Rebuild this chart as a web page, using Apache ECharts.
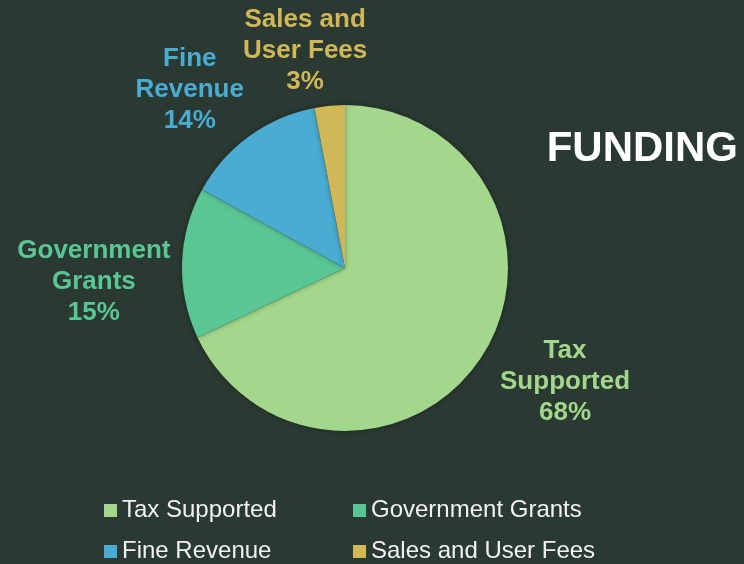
<!DOCTYPE html>
<html>
<head>
<meta charset="utf-8">
<script src="https://cdn.jsdelivr.net/npm/echarts@6/dist/echarts.min.js"></script>
<style>
  html, body { margin: 0; padding: 0; background: #2a3931; }
  #chart { width: 744px; height: 564px; }
</style>
</head>
<body>
<div id="chart"></div>
<script>
// data
var categories = ['Tax Supported', 'Government Grants', 'Fine Revenue', 'Sales and User Fees'];
var values = [68, 15, 14, 3];
var labelNames = ['Tax\nSupported', 'Government\nGrants', 'Fine\nRevenue', 'Sales and\nUser Fees'];
var colors = ['#a3d78b', '#5bc695', '#4aacd1', '#d0b757'];

var cx = 345, cy = 268, radius = 163;
var total = values.reduce(function (a, b) { return a + b; }, 0);

// place each label outside its slice, clear of the pie edge
function placeLabel(params) {
    var i = params.dataIndex;
    var before = 0;
    for (var k = 0; k < i; k++) before += values[k];
    var mid = (before + values[i] / 2) / total * 360 - 5;
    var a = mid * Math.PI / 180;
    var ux = Math.sin(a), uy = -Math.cos(a);
    var w = params.labelRect.width, h = params.labelRect.height;
    var d = radius + 10 + Math.abs(ux) * w / 2 + Math.abs(uy) * h * 0.4;
    return {
        x: cx + ux * d,
        y: cy + uy * d,
        align: 'center',
        verticalAlign: 'middle'
    };
}

var chart = echarts.init(document.getElementById('chart'));
var option = {
    backgroundColor: '#2a3931',
    title: {
        text: 'FUNDING',
        right: 6,
        top: 128,
        padding: 0,
        textStyle: {
            color: '#ffffff',
            fontFamily: 'Liberation Sans, Arial, sans-serif',
            fontWeight: 'bold',
            fontSize: 42
        }
    },
    legend: {
        data: categories,
        left: 104,
        top: 490,
        padding: 0,
        width: 520,
        itemGap: 0,
        itemWidth: 13,
        itemHeight: 13,
        icon: 'rect',
        textStyle: {
            color: '#f2f2f2',
            fontFamily: 'Liberation Sans, Arial, sans-serif',
            fontSize: 24,
            width: 231,
            lineHeight: 41
        }
    },
    series: [{
        type: 'pie',
        center: [cx, cy],
        radius: radius,
        startAngle: 90,
        clockwise: true,
        animation: false,
        data: categories.map(function (name, i) {
            return {
                name: name,
                value: values[i],
                itemStyle: { color: colors[i] },
                label: { color: colors[i] }
            };
        }),
        itemStyle: {
            shadowBlur: 5,
            shadowColor: 'rgba(0, 0, 0, 0.35)'
        },
        label: {
            show: true,
            position: 'outside',
            overflow: 'none',
            formatter: function (p) {
                return labelNames[p.dataIndex] + '\n' + Math.round(p.percent) + '%';
            },
            fontFamily: 'Liberation Sans, Arial, sans-serif',
            fontWeight: 'bold',
            fontSize: 26,
            lineHeight: 31
        },
        labelLine: { show: false },
        labelLayout: placeLabel,
        emphasis: { disabled: true }
    }]
};
chart.setOption(option);
</script>
</body>
</html>
